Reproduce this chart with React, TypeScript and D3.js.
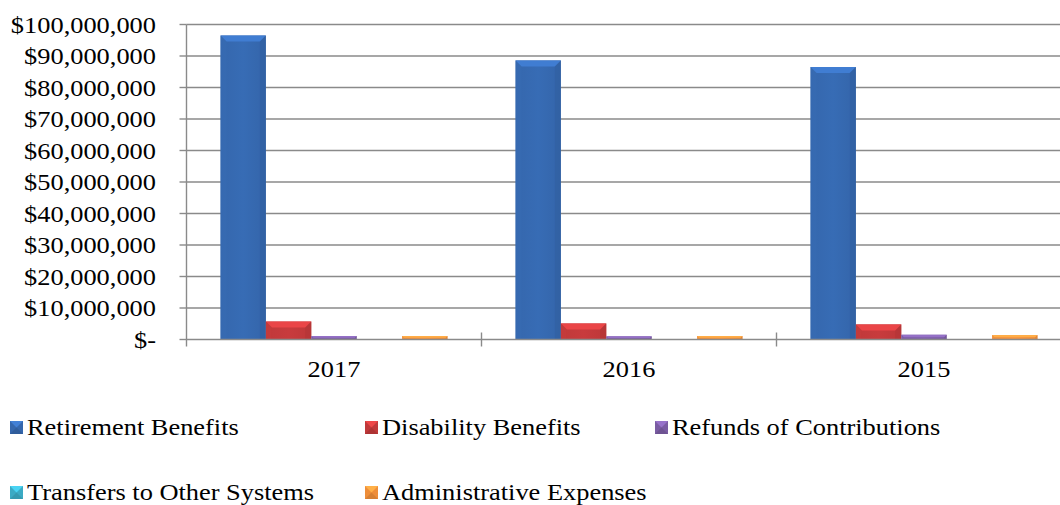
import React from "react";
import * as d3 from "d3";

const categories = ["2017", "2016", "2015"];
const seriesNames = [
  "Retirement Benefits",
  "Disability Benefits",
  "Refunds of Contributions",
  "Transfers to Other Systems",
  "Administrative Expenses",
];
const retirement = [96.5e6, 88.6e6, 86.5e6];
const disability = [5.7e6, 5.1e6, 4.8e6];
const refunds = [1.1e6, 1.0e6, 1.5e6];
const transfers = [0, 0, 0.15e6];
const admin = [1.1e6, 1.1e6, 1.4e6];
const yTicks = [0, 10e6, 20e6, 30e6, 40e6, 50e6, 60e6, 70e6, 80e6, 90e6, 100e6];

const seriesValues = [retirement, disability, refunds, transfers, admin];
const colors = ["#3567AD", "#C0393A", "#7A5CA3", "#3BAAC4", "#EE8E3A"];

const W = 1060;
const H = 505;
const FONT = "'Liberation Serif', 'Times New Roman', serif";
const SX = 1.1;
const FS = 24;
const GRID = "#8a8a8a";

const fmt = (v: number) => (v === 0 ? "$-" : "$" + d3.format(",")(v));

function T({ x, y, anchor, children }: any) {
  return (
    <g transform={`translate(${x},${y}) scale(${SX},1)`}>
      <text textAnchor={anchor || "start"} fontFamily={FONT} fontSize={FS} fill="#000">
        {children}
      </text>
    </g>
  );
}

export default function App() {
  const left = 186.5;
  const x = d3.scaleBand<string>().domain(categories).range([left, left + 3 * 295]).padding(0);
  const y = d3.scaleLinear().domain([0, 100e6]).range([339.5, 24.5]);
  const inner = d3
    .scaleBand<number>()
    .domain(d3.range(seriesNames.length))
    .range([34, x.bandwidth() - 34])
    .padding(0);
  const bw = inner.bandwidth();

  const lighten = (c: string, k: number) => d3.color(c)!.brighter(k).formatHex();
  const darken = (c: string, k: number) => d3.color(c)!.darker(k).formatHex();

  const bars: any[] = [];
  categories.forEach((cat, ci) => {
    seriesValues.forEach((vals, si) => {
      const v = vals[ci];
      if (v <= 0) return;
      const x0 = (x(cat) as number) + (inner(si) as number);
      const top = y(v);
      const bot = y(0);
      const h = bot - top;
      const bv = Math.min(6, h / 2);
      const c = colors[si];
      bars.push(
        <g key={`${ci}-${si}`}>
          <rect x={x0} y={top} width={bw} height={h} fill={`url(#g${si})`} />
          <polygon
            points={`${x0},${top} ${x0 + bw},${top} ${x0 + bw - bv},${top + bv} ${x0 + bv},${top + bv}`}
            fill={lighten(c, 0.55)}
          />
          <polygon
            points={`${x0},${top} ${x0 + bv},${top + bv} ${x0 + bv},${bot} ${x0},${bot}`}
            fill={lighten(c, 0.1)}
            opacity={0.5}
          />
          <polygon
            points={`${x0 + bw},${top} ${x0 + bw - bv},${top + bv} ${x0 + bw - bv},${bot} ${x0 + bw},${bot}`}
            fill={darken(c, 0.25)}
            opacity={0.5}
          />
        </g>
      );
    });
  });

  const legendPos = [
    { x: 10, y: 435 },
    { x: 365, y: 435 },
    { x: 655, y: 435 },
    { x: 10, y: 500 },
    { x: 365, y: 500 },
  ];

  return (
    <svg width={W} height={H} style={{ position: "absolute", left: 0, top: 0, background: "#fff" }}>
      <defs>
        {colors.map((c, i) => (
          <linearGradient key={i} id={`g${i}`} x1="0" x2="1" y1="0" y2="0">
            <stop offset="0" stopColor={c} />
            <stop offset="0.5" stopColor={lighten(c, 0.12)} />
            <stop offset="1" stopColor={darken(c, 0.05)} />
          </linearGradient>
        ))}
      </defs>
      <rect x={0} y={0} width={W} height={H} fill="#fff" />
      {yTicks.map((t) =>
        t === 0 ? null : (
          <line key={t} x1={left} x2={W} y1={y(t)} y2={y(t)} stroke={GRID} strokeWidth={1.4} />
        )
      )}
      {yTicks.map((t) => (
        <g key={"yt" + t}>
          <line x1={left - 7} x2={left} y1={y(t)} y2={y(t)} stroke={GRID} strokeWidth={1.4} />
          <T x={156} y={y(t) + 8} anchor="end">
            {fmt(t)}
          </T>
        </g>
      ))}
      {bars}
      <line x1={left} x2={left} y1={y(100e6)} y2={y(0) + 7} stroke={GRID} strokeWidth={1.4} />
      <line x1={left} x2={W} y1={y(0)} y2={y(0)} stroke={GRID} strokeWidth={1.6} />
      {categories.map((c, i) =>
        i === 0 ? null : (
          <line
            key={"xt" + c}
            x1={x(c) as number}
            x2={x(c) as number}
            y1={y(0) - 7}
            y2={y(0) + 7}
            stroke={GRID}
            strokeWidth={1.4}
          />
        )
      )}
      {categories.map((c) => (
        <T key={"xl" + c} x={(x(c) as number) + x.bandwidth() / 2} y={377} anchor="middle">
          {c}
        </T>
      ))}
      {seriesNames.map((n, i) => {
        const p = legendPos[i];
        const s = 13;
        const mx = p.x;
        const my = p.y - 14;
        return (
          <g key={"lg" + i}>
            <rect x={mx} y={my} width={s} height={s} fill={colors[i]} />
            <polygon
              points={`${mx},${my} ${mx + s},${my} ${mx + s / 2},${my + s / 2}`}
              fill={lighten(colors[i], 0.6)}
            />
            <polygon
              points={`${mx},${my + s} ${mx + s},${my + s} ${mx + s / 2},${my + s / 2}`}
              fill={darken(colors[i], 0.3)}
            />
            <T x={mx + 17} y={p.y}>
              {n}
            </T>
          </g>
        );
      })}
    </svg>
  );
}
